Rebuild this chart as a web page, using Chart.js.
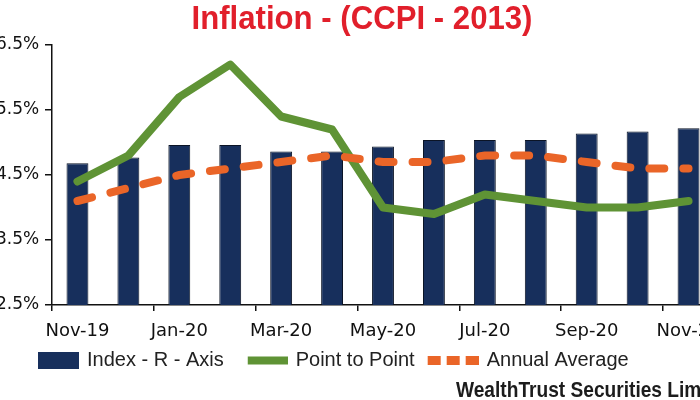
<!DOCTYPE html>
<html lang="en">
<head>
<meta charset="UTF-8">
<title>Inflation - (CCPI - 2013)</title>
<style>
    body {
        margin: 0;
        background: #fff;
        overflow: hidden;
    }
    .wrap {
        position: relative;
        width: 714px;
        height: 400px;
    }
    .title {
        position: absolute;
        top: 1px;
        left: 0;
        width: 724px;
        text-align: center;
        font: bold 33.5px "Liberation Sans", Arial, sans-serif;
        line-height: 1;
        color: #e11f2b;
        transform: scaleX(0.93);
        white-space: nowrap;
    }
    .source {
        position: absolute;
        left: 456px;
        top: 379px;
        font: bold 22px "Liberation Sans", Arial, sans-serif;
        line-height: 1;
        color: #1c1c1c;
        transform: scaleX(0.87);
        transform-origin: left top;
        white-space: nowrap;
    }
</style>
</head>
<body>
<div class="wrap">
    <canvas id="grafico"></canvas>
    <div class="title">Inflation - (CCPI - 2013)</div>
    <div class="source">WealthTrust Securities Limited</div>
</div>

<script src="https://cdn.jsdelivr.net/npm/chart.js"></script>
<script>
// values (bars shown on the left % scale)
const months = ['Nov-19', 'Dec-19', 'Jan-20', 'Feb-20', 'Mar-20', 'Apr-20', 'May-20',
                'Jun-20', 'Jul-20', 'Aug-20', 'Sep-20', 'Oct-20', 'Nov-20'];
const indexBars = [4.68, 4.77, 4.96, 4.96, 4.86, 4.86, 4.94, 5.04, 5.04, 5.04, 5.14, 5.17, 5.22];
const pointToPoint = [4.4, 4.8, 5.7, 6.2, 5.4, 5.2, 4.0, 3.9, 4.2, 4.1, 4.0, 4.0, 4.1];
const annualAverage = [4.1, 4.3, 4.5, 4.6, 4.7, 4.8, 4.7, 4.7, 4.8, 4.8, 4.7, 4.6, 4.6];
const yTicks = [2.5, 3.5, 4.5, 5.5, 6.5];

const navy = '#172f5c';
const green = '#5f9335';
const orange = '#ea6528';

// legend symbols: small canvases, the coloured part sits at the right end
function marker(fillW, paint) {
    let c = document.createElement('canvas');
    c.width = 58;
    c.height = 17;
    let g = c.getContext('2d');
    g.translate(58 - fillW, 0);
    paint(g);
    return c;
}
const markers = [
    marker(41, g => { g.fillStyle = navy; g.fillRect(0, 0, 41, 17); }),
    marker(40, g => { g.fillStyle = green; g.fillRect(0, 4.5, 40, 8); }),
    marker(51, g => {
        g.fillStyle = orange;
        [0, 19, 38].forEach(x => g.fillRect(x, 4, 13, 9));
    })
];

Chart.defaults.font.family = '"DejaVu Sans", sans-serif';
Chart.defaults.color = '#111';

new Chart(document.getElementById('grafico'), {
    type: 'bar',
    data: {
        labels: months,
        datasets: [{
            label: 'Index - R - Axis',
            data: indexBars,
            backgroundColor: navy,
            borderColor: '#0b1426',
            borderWidth: 1,
            barPercentage: 0.43,
            categoryPercentage: 1,
            order: 3
        }, {
            type: 'line',
            label: 'Point to Point',
            data: pointToPoint,
            borderColor: green,
            backgroundColor: green,
            borderWidth: 8,
            borderJoinStyle: 'round',
            borderCapStyle: 'round',
            pointRadius: 0,
            tension: 0,
            order: 2
        }, {
            type: 'line',
            label: 'Annual Average',
            data: annualAverage,
            borderColor: orange,
            backgroundColor: orange,
            borderWidth: 8,
            borderDash: [15, 19],
            borderCapStyle: 'round',
            pointRadius: 0,
            tension: 0,
            order: 1
        }]
    },
    options: {
        responsive: true,
        maintainAspectRatio: false,
        animation: false,
        layout: { padding: { top: 45, left: 15, right: 0, bottom: 19.5 } },
        plugins: {
            tooltip: { enabled: false },
            legend: {
                position: 'bottom',
                align: 'start',
                labels: {
                    usePointStyle: true,
                    pointStyleWidth: 54,
                    padding: 8,
                    color: '#222',
                    font: { family: '"Liberation Sans", Arial, sans-serif', size: 20 },
                    sort: (a, b) => a.datasetIndex - b.datasetIndex,
                    generateLabels(chart) {
                        let items = Chart.defaults.plugins.legend.labels.generateLabels(chart);
                        items.forEach(it => { it.pointStyle = markers[it.datasetIndex]; });
                        return items;
                    }
                }
            }
        },
        scales: {
            x: {
                offset: true,
                grid: {
                    offset: true,
                    drawOnChartArea: false,
                    tickLength: 6,
                    lineWidth: 1.5,
                    color: ctx => ctx.index % 2 === 0 ? '#111' : 'rgba(0,0,0,0)'
                },
                border: { color: '#111', width: 1.5 },
                ticks: {
                    autoSkip: false,
                    maxRotation: 0,
                    padding: 10,
                    font: { size: 18 },
                    callback: function (val, i) {
                        return i % 2 === 0 ? this.getLabelForValue(val) : '';
                    }
                },
                afterFit(scale) {
                    scale.height = 37.5;
                    scale.paddingLeft = 0;
                    scale.paddingRight = 0;
                }
            },
            y: {
                min: 2.5,
                max: 6.5,
                afterBuildTicks(scale) {
                    scale.ticks = yTicks.map(v => ({ value: v }));
                },
                grid: {
                    drawOnChartArea: false,
                    tickLength: 7,
                    lineWidth: 1.5,
                    color: '#111'
                },
                border: { color: '#111', width: 1.5 },
                ticks: {
                    // mirrored with a negative pad so the labels sit left of the axis
                    // and may run past the page edge like in the picture
                    mirror: true,
                    padding: -56,
                    font: { size: 17 },
                    callback: v => v.toFixed(1) + '%'
                },
                afterFit(scale) {
                    scale.width = 37;
                }
            }
        }
    }
});
</script>
</body>
</html>
